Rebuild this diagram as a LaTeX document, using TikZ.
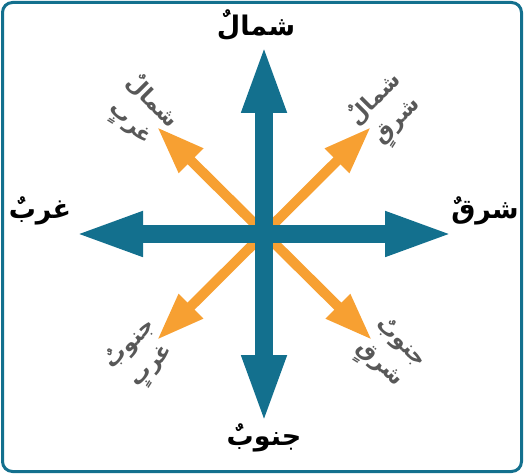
\documentclass[tikz,border=0pt]{standalone}
\usepackage{fontspec}
\newfontfamily\arabicfont[Script=Arabic]{DejaVu Sans}
\TeXXeTstate=1
\usetikzlibrary{arrows.meta}
\definecolor{compassteal}{RGB}{19,112,142}
\definecolor{compassorange}{RGB}{247,160,50}
\definecolor{labelgrey}{RGB}{88,88,88}

\begin{document}
\begin{tikzpicture}[x=1pt, y=1pt,
    mainarrow/.style={compassteal, line width=18pt, {Triangle[length=70pt,width=40pt]}-{Triangle[length=70pt,width=40pt]}},
    sidearrow/.style={compassorange, line width=10pt, {Triangle[length=48pt,width=32pt]}-{Triangle[length=48pt,width=32pt]}},
    mainlabel/.style={font=\arabicfont\bfseries\fontsize{27}{30}\selectfont, text=black, inner sep=0pt},
    sidelabel/.style={font=\arabicfont\bfseries\fontsize{22}{30}\selectfont, text=labelgrey, align=center, inner sep=0pt}]
    \useasboundingbox (0,0) rectangle (524,474);

    % Define the frame and the points of the compass
    \draw[compassteal, line width=3pt, rounded corners=10pt] (2.5,2.5) rectangle (521.5,471.5);
    \coordinate (C) at (264,240);
    \coordinate (N) at (264,431);
    \coordinate (S) at (264,49);
    \coordinate (W) at (73,240);
    \coordinate (E) at (455,240);
    \coordinate (NE) at (371,347);
    \coordinate (NW) at (157,347);
    \coordinate (SW) at (157,134);
    \coordinate (SE) at (372,134);

    % Draw the side arrows
    \draw[sidearrow] (SW) -- (NE);
    \draw[sidearrow] (SE) -- (NW);

    % Draw the main arrows
    \draw[mainarrow] (S) -- (N);
    \draw[mainarrow] (W) -- (E);

    % Place the main labels
    \node[mainlabel] (north) at (256,449) {\beginR شمالٌ\endR};
    \node[mainlabel] (south) at (264,36) {\beginR جنوبٌ\endR};
    \node[mainlabel] (west) at (40,263) {\beginR غربٌ\endR};
    \node[mainlabel] (east) at (485,263) {\beginR شرقٌ\endR};

    % Place the side labels
    \node[sidelabel, rotate=-45] (northwest) at (141,361) {\beginR شمالٌ\endR\\\beginR غربٍ\endR};
    \node[sidelabel, rotate=45] (northeast) at (387,363) {\beginR شمالٌ\endR\\\beginR شرقٍ\endR};
    \node[sidelabel, rotate=45] (southwest) at (142,118) {\beginR جنوبٌ\endR\\\beginR غربٍ\endR};
    \node[sidelabel, rotate=-45] (southeast) at (389,119) {\beginR جنوبٌ\endR\\\beginR شرقٍ\endR};

\end{tikzpicture}
\end{document}
